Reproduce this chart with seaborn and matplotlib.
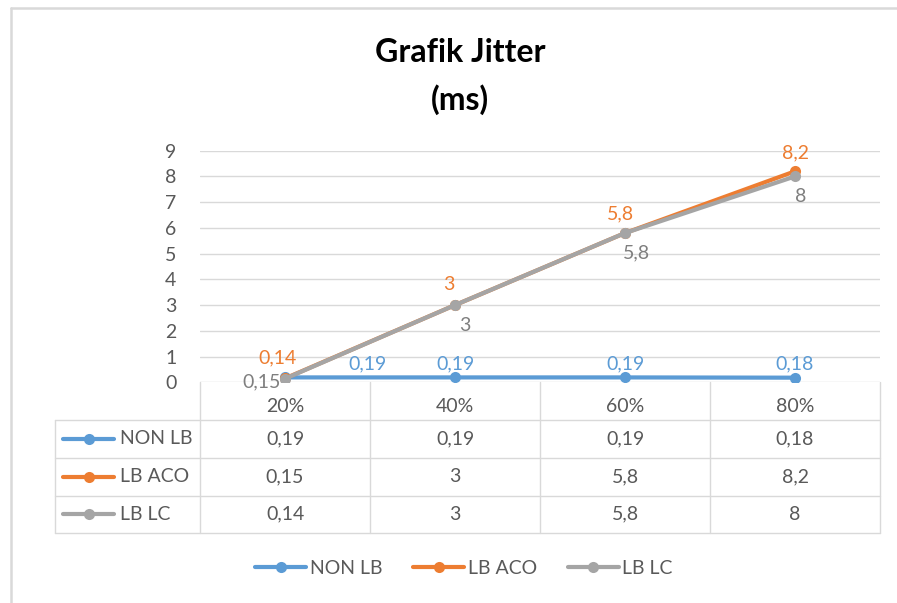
import matplotlib
matplotlib.use("Agg")
import matplotlib.pyplot as plt
from matplotlib.lines import Line2D
import seaborn as sns
import pandas as pd

# ---- data ----
categories = ["20%", "40%", "60%", "80%"]
series_names = ["NON LB", "LB ACO", "LB LC"]
non_lb = [0.19, 0.19, 0.19, 0.18]
lb_aco = [0.15, 3, 5.8, 8.2]
lb_lc = [0.14, 3, 5.8, 8]
# data labels as shown on the chart
labels_non_lb = ["0,19", "0,19", "0,19", "0,18"]
labels_lb_aco = ["0,14", "3", "5,8", "8,2"]
labels_lb_lc = ["0,15", "3", "5,8", "8"]
yticks = list(range(0, 10))

colors = {"NON LB": "#5B9BD5", "LB ACO": "#ED7D31", "LB LC": "#A5A5A5"}
label_colors = {"NON LB": "#5B9BD5", "LB ACO": "#ED7D31", "LB LC": "#7F7F7F"}
TXT = "#595959"
GRID = "#D9D9D9"
FS = 14

values = {"NON LB": non_lb, "LB ACO": lb_aco, "LB LC": lb_lc}
point_labels = {"NON LB": labels_non_lb, "LB ACO": labels_lb_aco, "LB LC": labels_lb_lc}

rows = []
for s in series_names:
    for c, v in zip(categories, values[s]):
        rows.append({"cat": c, "val": v, "series": s})
df = pd.DataFrame(rows)

sns.set_theme(style="white")
plt.rcParams["font.family"] = ["Lato", "DejaVu Sans"]

W, H = 897, 603
fig = plt.figure(figsize=(W / 100, H / 100), dpi=100)

def fx(px):
    return px / W

def fy(py):
    return 1 - py / H

ax_left, ax_right, ax_top, ax_bottom = 200, 880, 150.7, 382.3
ax = fig.add_axes([fx(ax_left), fy(ax_bottom), fx(ax_right) - fx(ax_left), fy(ax_top) - fy(ax_bottom)])

sns.lineplot(data=df, x="cat", y="val", hue="series", hue_order=series_names,
             palette=colors, marker="o", markersize=8, markeredgewidth=0,
             linewidth=3, ax=ax, sort=False)

ax.set_xlim(-0.5, 3.5)
ax.set_ylim(0, 9)
ax.set_yticks(yticks)
ax.set_yticklabels([str(t) for t in yticks], fontsize=FS, color=TXT)
ax.set_xticks(range(len(categories)))
ax.set_xticklabels(categories, fontsize=FS, color=TXT)
ax.tick_params(axis="y", length=0, pad=17)
ax.tick_params(axis="x", length=0, pad=11)
ax.set_xlabel("")
ax.set_ylabel("")
for sp in ax.spines.values():
    sp.set_visible(False)
ax.yaxis.grid(True, color=GRID, linewidth=1.0)
ax.xaxis.grid(False)
ax.set_axisbelow(True)

# data labels
offsets = {
    "NON LB": [(82, 14), (0, 14), (0, 14), (0, 14)],
    "LB ACO": [(-8, 21), (-6, 21), (-5, 19), (0, 18)],
    "LB LC": [(-23, -3), (10, -20), (11, -20), (6, -20)],
}
for s in series_names:
    for i, (v, lab) in enumerate(zip(values[s], point_labels[s])):
        dx, dy = offsets[s][i]
        ax.annotate(lab, (i, v), xytext=(dx, dy), textcoords="offset pixels",
                    ha="center", va="center", fontsize=FS, color=label_colors[s])

# legend at bottom
sns.move_legend(ax, "center", bbox_to_anchor=(fx(464), fy(568)),
                bbox_transform=fig.transFigure, ncol=3, frameon=False, title=None,
                fontsize=FS, handlelength=2.6, columnspacing=1.6, handletextpad=0.2)
for t in ax.get_legend().get_texts():
    t.set_color(TXT)

# data table
col_w = (ax_right - ax_left) / len(categories)
row_lines = [420, 457.7, 495.5, 533]
tbl_left = 55
for k in range(len(categories) + 1):
    x = ax_left + k * col_w
    fig.add_artist(Line2D([fx(x), fx(x)], [fy(ax_bottom), fy(row_lines[-1])], color=GRID, lw=1.0))
fig.add_artist(Line2D([fx(tbl_left), fx(tbl_left)], [fy(row_lines[0]), fy(row_lines[-1])], color=GRID, lw=1.0))
for y in row_lines:
    fig.add_artist(Line2D([fx(tbl_left), fx(ax_right)], [fy(y), fy(y)], color=GRID, lw=1.0))

for r, s in enumerate(series_names):
    yc = (row_lines[r] + row_lines[r + 1]) / 2
    fig.add_artist(Line2D([fx(63), fx(114)], [fy(yc), fy(yc)], color=colors[s], lw=3))
    fig.add_artist(Line2D([fx(88.5)], [fy(yc)], color=colors[s], marker="o", markersize=8,
                          markeredgewidth=0, lw=0))
    fig.text(fx(120), fy(yc), s, ha="left", va="center", fontsize=FS, color=TXT)
    for i, v in enumerate(values[s]):
        xc = ax_left + (i + 0.5) * col_w
        fig.text(fx(xc), fy(yc), f"{v:g}".replace(".", ","), ha="center", va="center",
                 fontsize=FS, color=TXT)

# title
fig.text(fx(460), fy(53), "Grafik Jitter", ha="center", va="center", fontsize=23,
         fontweight="bold", color="black")
fig.text(fx(460), fy(100), "(ms)", ha="center", va="center", fontsize=23,
         fontweight="bold", color="black")

# chart border (left and top)
fig.add_artist(Line2D([fx(11), fx(11)], [fy(8), 0], color=GRID, lw=1.8))
fig.add_artist(Line2D([fx(11), 1], [fy(8), fy(8)], color=GRID, lw=1.8))

fig.savefig("out.png", dpi=100, facecolor="white")
